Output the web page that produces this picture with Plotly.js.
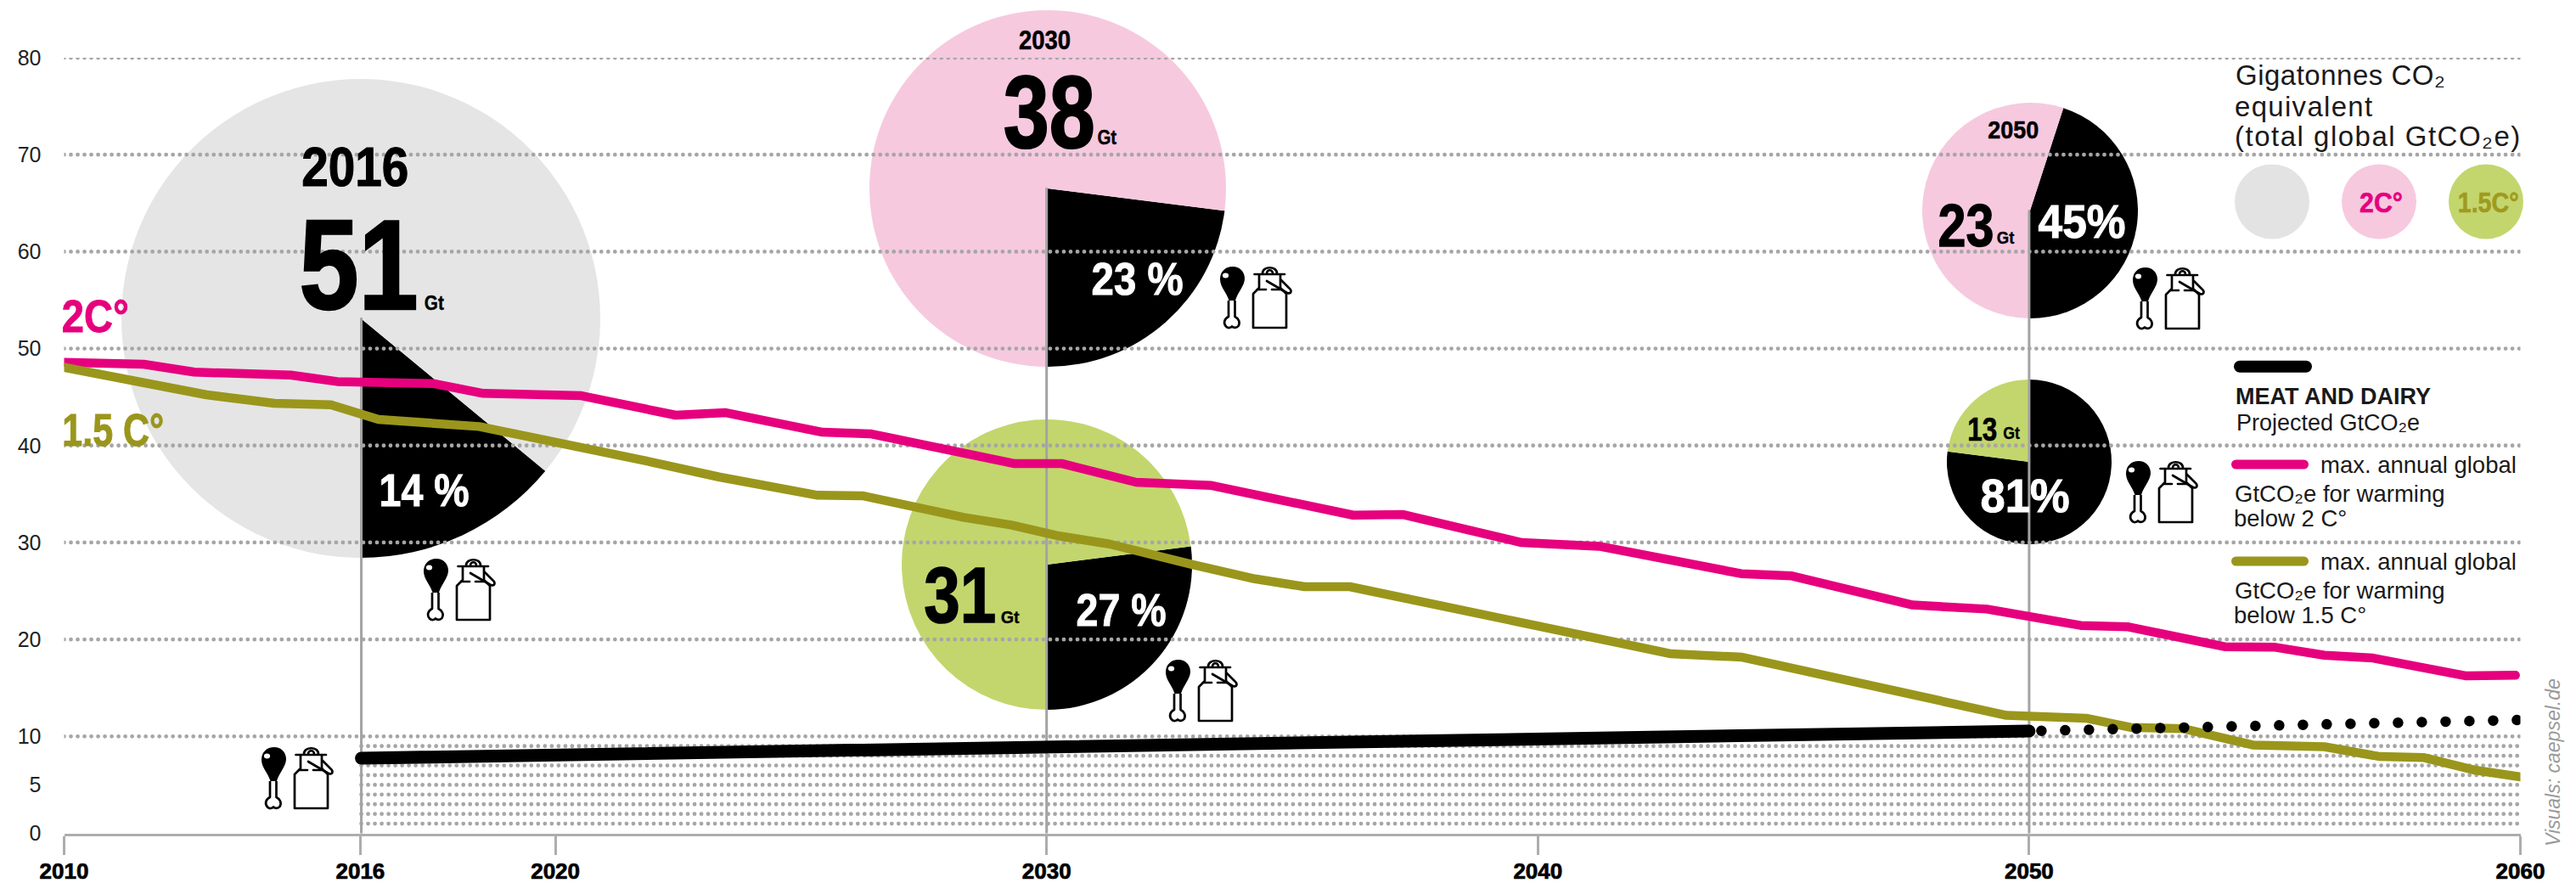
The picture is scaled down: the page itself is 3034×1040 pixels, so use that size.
<!DOCTYPE html>
<html>
<head>
<meta charset="utf-8">
<script src="https://cdn.plot.ly/plotly-3.0.1.min.js"></script>
<style>html,body{margin:0;padding:0;background:#fff}#chart{width:3034px;height:1040px}</style>
</head>
<body>
<div id="chart"></div>
<script>
// ---------- data ----------
const years2C = [2010,2011.62,2012.65,2014.61,2015.56,2017.53,2018.53,2020.53,2022.45,2023.47,2025.44,2026.43,2029.35,2030.32,2031.82,2033.36,2036.24,2037.26,2039.67,2041.25,2044.14,2045.17,2047.63,2049.14,2051.05,2052.02,2053.98,2055.01,2056.01,2057,2058.9,2059.9];
const values2C = [48.58,48.38,47.57,47.27,46.6,46.39,45.38,45.14,43.13,43.39,41.37,41.2,38.13,38.13,36.21,35.88,32.82,32.88,29.99,29.61,26.78,26.55,23.55,23.13,21.44,21.3,19.25,19.19,18.37,18.08,16.24,16.31];
const years15C = [2010,2012.9,2014.28,2015.43,2016.4,2018.45,2021.83,2023.33,2025.34,2026.27,2028.31,2029.28,2030.2,2031.28,2032.98,2034.24,2035.25,2036.17,2042.71,2044.16,2049.54,2051.16,2052.06,2053.15,2054.55,2056.01,2057.14,2058.04,2059.04,2060];
const values15C = [48.06,45.23,44.35,44.2,42.69,41.96,38.44,36.76,34.87,34.81,32.59,31.8,30.72,29.84,27.71,26.25,25.44,25.44,18.52,18.17,12.17,11.87,10.93,10.79,9.11,8.93,7.92,7.81,6.55,5.82];
const meatYears = [2016.05,2050];
const meatValues = [7.75,10.55];
const meatProjYears = [2050.25,2060];
const meatProjValues = [10.58,11.7];
const majorGrid = [10,20,30,40,50,60,70,80];
const minorGrid = [1,2,3,4,5,6,7,8,9];
const yTicks = [0,5,10,20,30,40,50,60,70,80];
const xTicks = [2010,2016.03,2020,2030,2040,2050,2060];
const xTickText = ['2010','2016','2020','2030','2040','2050','2060'];
const stemYears = [2016.05,2030,2050];
const stemTops = [53.1,66.5,64.2];
const pieShares = [14,23,27,45,77];        // meat and dairy wedge as drawn, %
const pieColors = ['#e5e5e5','#f6c9df','#c3d66d','#f6c9df','#c3d66d'];

// ---------- colours ----------
const MAGENTA='#e6007e', OLIVE='#9a961c', DOT='#a6a6a6', STEM='#a3a3a3';
const W=3034, H=1040;
const BOLD='"Liberation Sans",sans-serif';
const SANS='"Liberation Sans",sans-serif';

// ---------- pixel helpers for page furniture ----------
const px=x=>x/W, py=y=>1-y/H;
const pieGeom=[[425,375,282,129.6],[1234,222,210,97.2],[1233,665,171,82.8],[2391,248,127,18],[2390,544,97,0]];

const traces=[];
pieGeom.forEach((g,i)=>traces.push({
  type:'pie',values:[pieShares[i],100-pieShares[i]],sort:false,direction:'clockwise',rotation:g[3],
  marker:{colors:['#000000',pieColors[i]],line:{width:0}},textinfo:'none',textposition:'none',hoverinfo:'skip',showlegend:false,
  domain:{x:[px(g[0]-g[2]),px(g[0]+g[2])],y:[py(g[1]+g[2]),py(g[1]-g[2])]}
}));
const dotted=(x,y)=>({type:'scatter',mode:'lines',x,y,cliponaxis:false,hoverinfo:'skip',showlegend:false,line:{color:DOT,width:4.8,dash:'0.01px,8px'}});
majorGrid.forEach(v=>traces.push(dotted([2010,2060.1],[v,v])));
minorGrid.forEach(v=>traces.push(dotted([2016.05,2060.1],[v,v])));
stemYears.forEach((x,i)=>traces.push({type:'scatter',mode:'lines',x:[x,x],y:[0,stemTops[i]],cliponaxis:false,hoverinfo:'skip',showlegend:false,line:{color:STEM,width:3}}));
const line=(x,y,color,width,dash)=>({type:'scatter',mode:'lines',x,y,cliponaxis:false,hoverinfo:'skip',showlegend:false,line:{color,width,dash:dash||'solid'}});
traces.push(line(years2C,values2C,MAGENTA,10.5));
traces.push(line(years15C,values15C,OLIVE,10.5));
traces.push(line(meatYears,meatValues,'#000',15));
traces.push(line(meatProjYears,meatProjValues,'#000',12.5,'0.01px,28px'));

// ---------- annotations ----------
const ann=[], fit=[];
function T(text,x,y,size,color,opts){
  opts=opts||{};
  ann.push(Object.assign({text,xref:'paper',yref:'paper',x:px(x),y:py(y),xanchor:opts.a||'center',align:opts.a||'center',yanchor:'middle',showarrow:false,
    borderpad:0,font:{family:opts.f||BOLD,size,color,weight:opts.w||700}},opts.extra||{}));
  fit.push({width:opts.width,stroke:opts.stroke,color,ls:opts.ls});
}
const N=(text,x,y,size,color,width)=>T(text,x,y,size,color,{width,stroke:size*0.018});
N('2016',418,197,64,'#000',126);
N('51',422,312,150,'#000',140);
N('Gt',511,356,24,'#000',23);
N('14 %',499,577,54,'#fff',106);
N('2C°',112,372,54,MAGENTA,79);
N('1.5 C°',133,506,54,OLIVE,120);
N('2030',1230,47,32,'#000',61);
N('38',1235,132,120,'#000',108);
N('Gt',1304,162,23,'#000',23);
N('23 %',1339,328,54,'#fff',108);
N('31',1130,701,93,'#000',85);
N('Gt',1189,726,21,'#000',22);
N('27 %',1320,718,54,'#fff',106);
N('2050',2371,153,29,'#000',60);
N('23',2315,265,71,'#000',66);
N('Gt',2362,280,20,'#000',21);
N('45%',2452,261,55,'#fff',103);
N('13',2334,505,39,'#000',35);
N('Gt',2369,510,20,'#000',20);
N('81%',2385,584,55,'#fff',105);
// legend
const L=(text,x,y,size,opts)=>T(text,x,y,size,'#1a1a1a',Object.assign({a:'left',f:SANS,w:400},opts||{}));
L('Gigatonnes CO₂',2632,88,33,{ls:0.5});
L('equivalent',2631,125,33,{ls:1.3});
L('(total global GtCO₂e)',2631,160,33,{ls:1.5});
N('2C°',2804,238,34,MAGENTA,51);
N('1.5C°',2930,238,34,'#a09a1e',72);
L('MEAT AND DAIRY',2632,467,27,{w:700});
L('Projected GtCO₂e',2633,498,27);
L('max. annual global',2732,547.5,27.5);
L('GtCO₂e for warming',2631,581.5,27.5);
L('below 2 C°',2630,610.5,27.5);
L('max. annual global',2732,661.5,27.5);
L('GtCO₂e for warming',2631,695.5,27.5);
L('below 1.5 C°',2630,724.5,27.5);
T('Visuals: caepsel.de',3007,898,23,'#9a9a9a',{f:SANS,w:400,extra:{textangle:-90,font:{family:SANS,size:23,color:'#9a9a9a',style:'italic'}}});

// ---------- legend shapes ----------
const circle=(cx,cy,r,fill)=>({type:'circle',xref:'paper',yref:'paper',x0:px(cx-r),x1:px(cx+r),y0:py(cy+r),y1:py(cy-r),fillcolor:fill,line:{width:0}});
const bar=(x0,x1,y,color,w)=>({type:'line',xref:'paper',yref:'paper',x0:px(x0),x1:px(x1),y0:py(y),y1:py(y),line:{color,width:w}});
const shapes=[
  circle(2676,237.5,44,'#e3e3e3'),circle(2802,237.5,44,'#f6c9df'),circle(2928,237.5,44,'#c3d66d'),
  bar(2638,2716,431.7,'#000',14),bar(2633.5,2713.5,547,MAGENTA,11),bar(2633.5,2713.5,661,OLIVE,11)
];

// ---------- icon ----------
const svg=`<svg xmlns="http://www.w3.org/2000/svg" width="330" height="255" viewBox="0 0 110 85">
<path d="M28 5C19 5 13 11 13 20C13 29 21 36 23.5 45L31 45C33 36 42 28 42 19C42 11 36 5 28 5Z" fill="#000"/>
<ellipse cx="19.5" cy="15.5" rx="3.6" ry="3" fill="#fff"/>
<path d="M23 45V64C18 66 16.5 72 20 75.5C22.5 78 25.5 77 27 75.5C28.5 77 32 78 34.5 75C37 71 35 66 30.5 64V45" fill="#fff" stroke="#000" stroke-width="2.7" stroke-linejoin="round"/>
<g fill="none" stroke="#000" stroke-width="2.7" stroke-linecap="round" stroke-linejoin="round">
<path d="M59 15V30L52 37V77H91V37L84 30V15"/>
<path d="M53.5 14H89"/>
<path d="M63 13C63 4 80 4 80 13M68 13C68 8 75 8 75 13"/>
<path d="M57 32H67M74 32H85"/>
<path d="M68 22L92 36C97 38 98 33 94 30L85 21"/>
</g></svg>`;
const iconSrc='data:image/svg+xml,'+encodeURIComponent(svg);
const icon=(x,y)=>({source:iconSrc,xref:'paper',yref:'paper',x:px(x),y:py(y),sizex:110/W,sizey:85/H,xanchor:'left',yanchor:'top',sizing:'stretch',layer:'above'});
const images=[icon(486,653),icon(295,875),icon(1424,309),icon(1360,772),icon(2499,310),icon(2491,538)];

const layout={
  width:W,height:H,margin:{l:0,r:0,t:0,b:0,pad:0},paper_bgcolor:'#fff',plot_bgcolor:'rgba(0,0,0,0)',showlegend:false,
  xaxis:{domain:[px(75.5),px(2968.5)],range:[2010,2060],tickmode:'array',tickvals:xTicks,ticktext:xTickText,
    showgrid:false,zeroline:false,showline:true,linecolor:'#adadad',linewidth:3,ticks:'outside',ticklen:22,tickwidth:3,tickcolor:'#adadad',
    tickfont:{family:SANS,size:26,color:'#000',weight:700},tickangle:0,ticklabelstandoff:-3},
  yaxis:{domain:[py(981.5),py(68)],range:[0,80],tickmode:'array',tickvals:yTicks,showgrid:false,zeroline:false,showline:false,
    ticks:'',tickfont:{family:SANS,size:25,color:'#222'},ticklabelstandoff:26},
  annotations:ann,shapes,images
};
Plotly.newPlot('chart',traces,layout,{staticPlot:true,displayModeBar:false}).then(gd=>{
  const pie=gd.querySelector('.pielayer'), cart=gd.querySelector('.cartesianlayer');
  if(pie&&cart&&pie.parentNode===cart.parentNode) cart.parentNode.insertBefore(pie,cart);
  gd.querySelectorAll('.js-line, .shapelayer path').forEach(p=>{p.style.strokeLinecap='round';p.style.strokeLinejoin='round';});
  gd.querySelectorAll('.xtick text').forEach(t=>{t.style.stroke='#000';t.style.strokeWidth='0.7px';});
  const els=gd.querySelectorAll('.annotation');
  els.forEach((g,i)=>{
    const f=fit[i], t=g.querySelector('text'); if(!f||!t) return;
    if(f.width){
      const b=t.getBBox(), sx=f.width/b.width, cx=b.x+b.width/2;
      t.setAttribute('transform','translate('+cx+',0) scale('+sx+',1) translate('+(-cx)+',0)');
    }
    if(f.stroke){t.style.stroke=f.color;t.style.strokeWidth=f.stroke+'px';}
    if(f.ls){t.style.letterSpacing=f.ls+'px';}
  });
});
</script>
</body>
</html>
